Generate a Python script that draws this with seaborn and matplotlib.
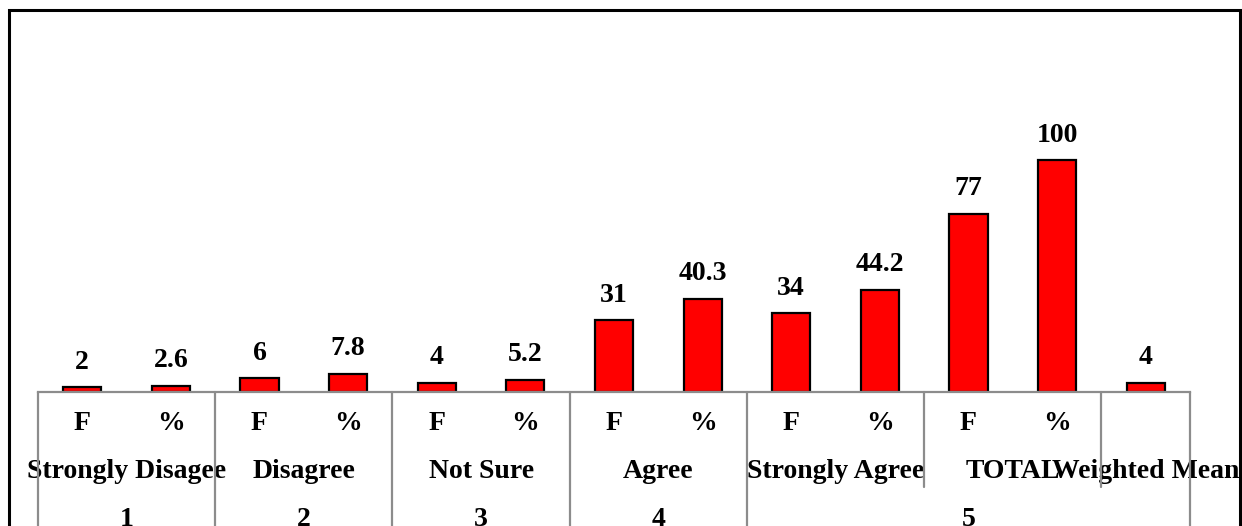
import matplotlib
matplotlib.use("Agg")
import matplotlib.pyplot as plt
import matplotlib.transforms as mtransforms
from matplotlib.lines import Line2D
from matplotlib.patches import Rectangle
import seaborn as sns
import pandas as pd

# ---- data ----
sub_labels = ["F", "%", "F", "%", "F", "%", "F", "%", "F", "%", "F", "%", ""]
values = [2, 2.6, 6, 7.8, 4, 5.2, 31, 40.3, 34, 44.2, 77, 100, 4]
value_labels = ["2", "2.6", "6", "7.8", "4", "5.2", "31", "40.3", "34", "44.2", "77", "100", "4"]
mid_labels = ["Strongly Disagee", "Disagree", "Not Sure", "Agree", "Strongly Agree", "TOTAL", "Weighted Mean"]
mid_spans = [(0, 2), (2, 4), (4, 6), (6, 8), (8, 10), (10, 12), (12, 13)]
top_labels = ["1", "2", "3", "4", "5"]
top_spans = [(0, 2), (2, 4), (4, 6), (6, 8), (8, 13)]

W, H = 1242, 526
sns.set_theme(style="white")
plt.rcParams["font.family"] = ["Liberation Serif", "DejaVu Serif"]

fig = plt.figure(figsize=(W / 100, H / 100), dpi=100)
# axes placement in pixels
left_px, right_px, base_px, top_px = 38, 1190, 392, 114
ax = fig.add_axes([left_px / W, (H - base_px) / H, (right_px - left_px) / W, (base_px - top_px) / H])

df = pd.DataFrame({"pos": [str(i) for i in range(len(values))], "val": values})
sns.barplot(data=df, x="pos", y="val", color="#ff0000", edgecolor="black",
            linewidth=1.6, width=0.43, saturation=1, ax=ax)
ax.set_xlim(-0.5, len(values) - 0.5)
ax.set_ylim(0, 120)
ax.set_xlabel("")
ax.set_ylabel("")
ax.set_xticks([])
ax.set_yticks([])
for s in ["top", "left", "right"]:
    ax.spines[s].set_visible(False)
ax.spines["bottom"].set_color("#8c8c8c")
ax.spines["bottom"].set_linewidth(1.6)
ax.set_facecolor("none")

FS = 20
ax.bar_label(ax.containers[0], labels=value_labels, padding=9,
             fontsize=FS, fontweight="bold", color="black")

trans = mtransforms.blended_transform_factory(ax.transData, fig.transFigure)

def fy(py):
    return (H - py) / H

gray = "#8c8c8c"
# sub labels (F / %)
for i, lab in enumerate(sub_labels):
    if lab:
        ax.text(i, fy(423), lab, transform=trans, ha="center", va="center",
                fontsize=FS, fontweight="bold", color="black", clip_on=False)
# mid labels
for lab, (a, b) in zip(mid_labels, mid_spans):
    ax.text((a + b - 1) / 2, fy(471), lab, transform=trans, ha="center", va="center",
            fontsize=FS, fontweight="bold", color="black", clip_on=False)
# top labels
for lab, (a, b) in zip(top_labels, top_spans):
    ax.text((a + b - 1) / 2, fy(519), lab, transform=trans, ha="center", va="center",
            fontsize=FS, fontweight="bold", color="black", clip_on=False)

# separator lines
top_bounds = sorted(set([a for a, b in top_spans] + [top_spans[-1][1]]))
mid_bounds = sorted(set([a for a, b in mid_spans] + [mid_spans[-1][1]]))
for bnd in mid_bounds:
    x = bnd - 0.5
    if bnd in top_bounds:
        y0, y1 = fy(392), fy(530)
    else:
        y0, y1 = fy(392), fy(487)
    fig.add_artist(Line2D([x, x], [y0, y1], transform=trans, color=gray, lw=1.6))

# outer border
fig.add_artist(Rectangle((9 / W, -0.05), (1240 - 9) / W, fy(10) + 0.05,
                         transform=fig.transFigure, fill=False, edgecolor="black", lw=2.2))

fig.savefig("out.png", dpi=100)
